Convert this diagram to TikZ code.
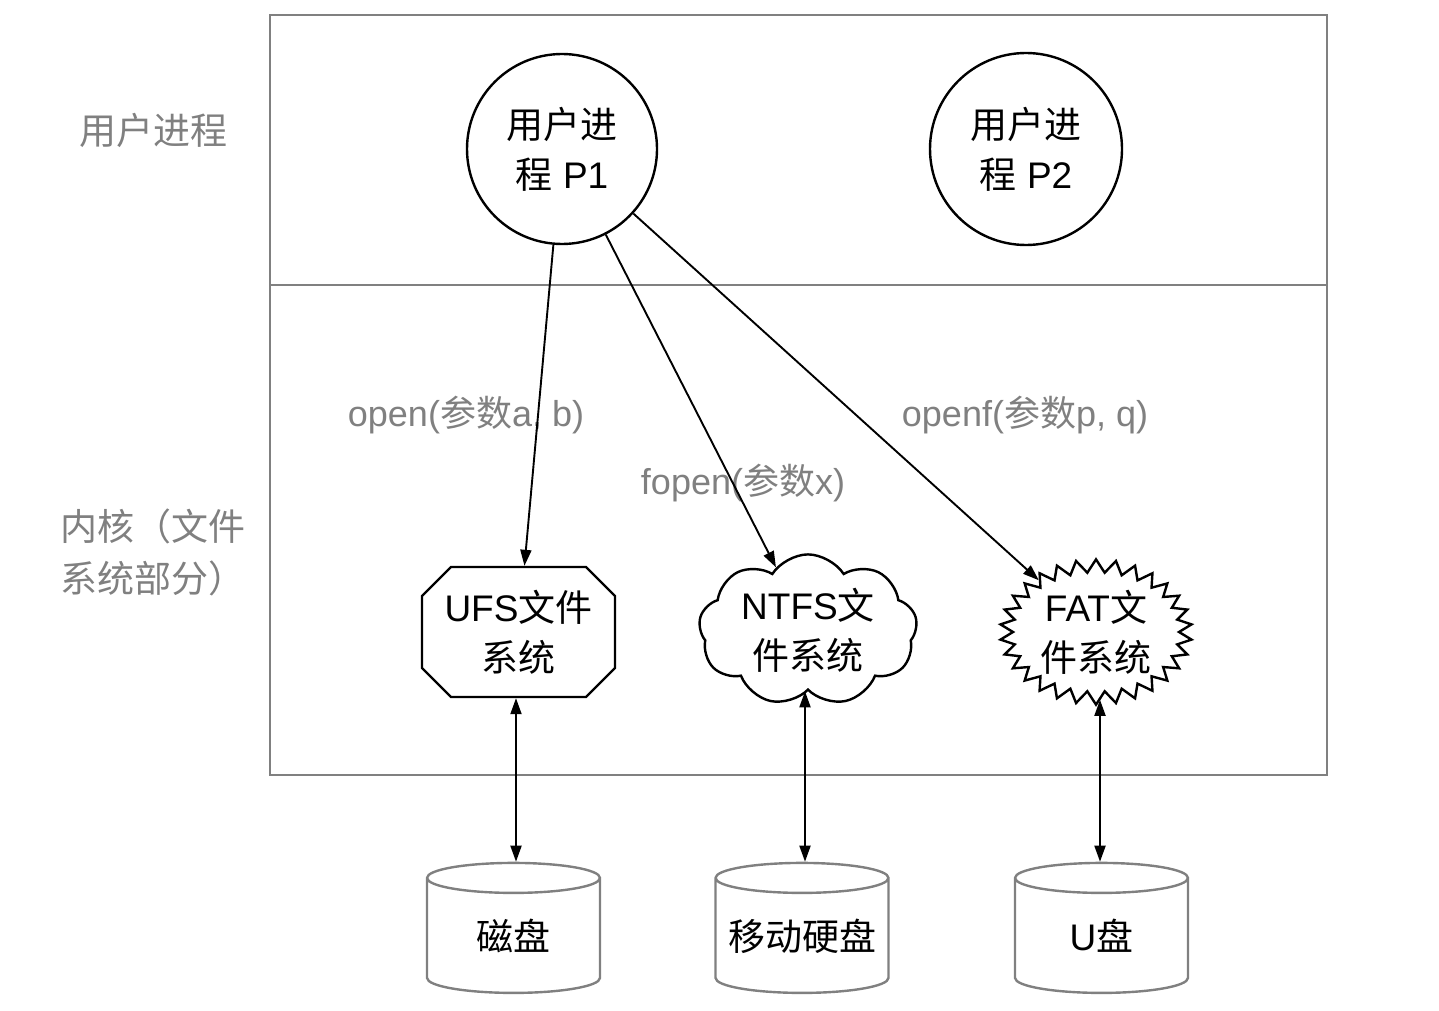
\documentclass[tikz,border=0pt]{standalone}
\usepackage{fontspec}
\setmainfont{Liberation Sans}
\newfontfamily\cjk{Noto Sans CJK SC}
\newcommand\zh[1]{{\cjk #1}}
\usetikzlibrary{shapes.geometric,shapes.symbols,shapes.misc,arrows.meta}
\definecolor{framegray}{HTML}{808080}
\definecolor{labelgray}{HTML}{808080}
\tikzset{
  bigtext/.style={font=\fontsize{37}{50}\selectfont, align=center},
  proc/.style={circle, draw=black, line width=2.4pt, bigtext, inner sep=0pt},
  sidelabel/.style={text=labelgray, bigtext, font=\fontsize{37}{52}\selectfont},
  edgelabel/.style={text=labelgray, font=\fontsize{36}{40}\selectfont},
  fsbox/.style={draw=black, line width=2.4pt, bigtext, inner sep=0pt},
  disk/.style={cylinder, shape border rotate=90, aspect=0.2, draw=framegray,
    line width=2.4pt, bigtext, text width=150pt, minimum width=173pt, minimum height=130pt, inner sep=0pt},
  conn/.style={line width=1.9pt, -{Triangle[length=16pt,width=11pt]}},
  biconn/.style={line width=1.9pt, {Triangle[length=16pt,width=11pt]}-{Triangle[length=16pt,width=11pt]}},
}
\begin{document}
\begin{tikzpicture}[x=1pt,y=-1pt]
\useasboundingbox (0,0) rectangle (1439,1011);
% frame
\draw[framegray, line width=2.4pt] (270,15) rectangle (1327,775);
\draw[framegray, line width=2.4pt] (270,285) -- (1327,285);
% side labels
\node[sidelabel] (lu) at (153,130) {\zh{用户进程}};
\node[sidelabel] (lk) at (153,552) {\zh{内核（文件}\\\zh{系统部分）}};
% processes
\node[proc, minimum size=190pt] (p1) at (562,149) {\zh{用户进}\\\zh{程} P1};
\node[proc, minimum size=192pt] (p2) at (1026,149) {\zh{用户进}\\\zh{程} P2};
% file systems
\node[fsbox, chamfered rectangle, chamfered rectangle xsep=13pt, chamfered rectangle ysep=16pt,
  minimum width=193pt, minimum height=130pt] (ufs) at (518.5,632) {UFS\zh{文件}\\\zh{系统}};
\node[fsbox, cloud, cloud puffs=9, cloud puff arc=115, aspect=1.75,
  minimum width=210pt, minimum height=116pt] (ntfs) at (808,630) {NTFS\zh{文}\\\zh{件系统}};
\node[fsbox, starburst, starburst points=30, starburst point height=13pt, random starburst=0,
  minimum width=192pt, minimum height=130pt] (fat) at (1096,632) {FAT\zh{文}\\\zh{件系统}};
% disks
\node[disk] (d1) at (513.5,936) {\zh{磁盘}};
\node[disk] (d2) at (802,936) {\zh{移动硬盘}};
\node[disk] (d3) at (1101.5,936) {U\zh{盘}};
% edge labels
\node[edgelabel] (la) at (466,415) {open(\zh{参数}a, b)};
\node[edgelabel] (lx) at (743,483) {fopen(\zh{参数}x)};
\node[edgelabel] (lp) at (1025,415) {openf(\zh{参数}p, q)};
% connectors
\draw[conn] (p1) -- (ufs);
\draw[conn] (p1) -- (ntfs);
\draw[conn] (p1) -- (fat);
\draw[biconn] (ufs.south -| 516,0) -- (d1.north -| 516,0);
\draw[biconn] (ntfs.south -| 805,0) -- (d2.north -| 805,0);
\draw[biconn] ([yshift=7pt]fat.south -| 1100,0) -- (d3.north -| 1100,0);
\end{tikzpicture}
\end{document}
